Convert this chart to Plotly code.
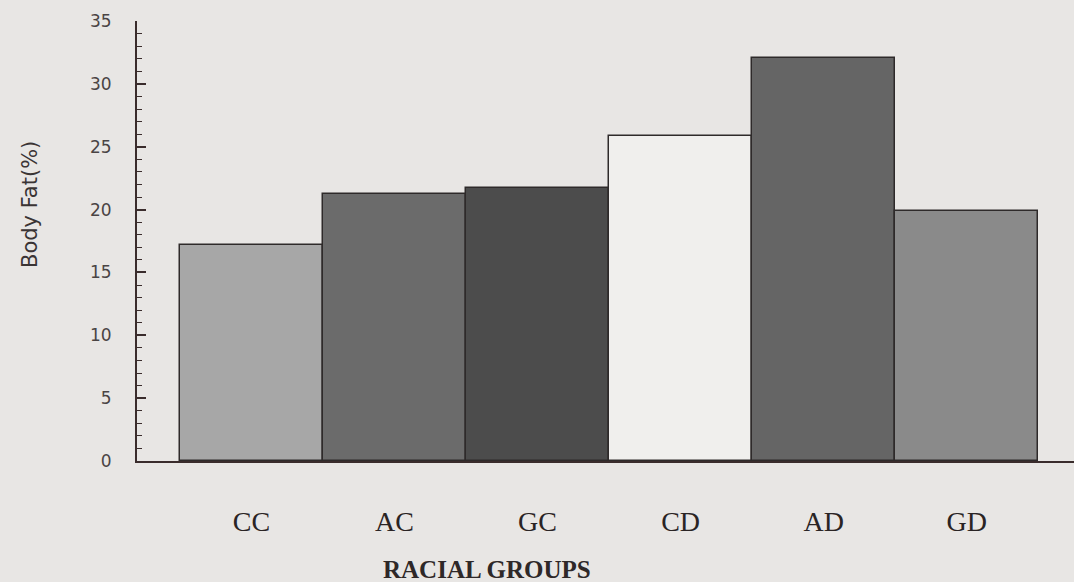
import plotly.graph_objects as go

categories = ["CC", "AC", "GC", "CD", "AD", "GD"]
body_fat = [17.2, 21.2, 21.7, 25.85, 32.05, 19.9]
bar_colors = ["#a7a7a7", "#6b6b6b", "#4c4c4c", "#f0efed", "#656565", "#8a8a8a"]
y_ticks = [0, 5, 10, 15, 20, 25, 30, 35]

W, H = 1074, 582
L, R, T, B = 137, 0, 21, 121
pw, ph = W - L - R, H - T - B

def px_x(x):
    return (x - L) / pw

def px_y(y):
    return (H - B - y) / ph

bg = "#e8e6e4"
axis_col = "#3a2c2c"

fig = go.Figure(go.Bar(
    x=categories, y=body_fat,
    marker=dict(color=bar_colors, line=dict(color="#2e2a2a", width=1.5)),
    width=1.0,
))

fig.update_layout(
    width=W, height=H,
    margin=dict(l=L, r=R, t=T, b=B, pad=0),
    paper_bgcolor=bg, plot_bgcolor=bg,
    showlegend=False,
    bargap=0,
    xaxis=dict(
        type="category",
        range=[-0.8, 5.75],
        showline=True, linecolor=axis_col, linewidth=2,
        ticks="", showgrid=False, zeroline=False,
        tickfont=dict(family="Liberation Serif", size=28, color="#2a2424"),
        ticklabelstandoff=34,
    ),
    yaxis=dict(
        range=[0, 35],
        tickvals=y_ticks,
        showline=True, linecolor=axis_col, linewidth=2,
        ticks="inside", ticklen=9, tickwidth=1.5, tickcolor=axis_col,
        minor=dict(dtick=1, ticks="inside", ticklen=5, tickwidth=1.2, tickcolor=axis_col),
        showgrid=False, zeroline=False,
        tickfont=dict(family="DejaVu Sans", size=17, color="#4a4444"),
        ticklabelstandoff=20,
    ),
    annotations=[
        dict(text="Body Fat(%)", xref="paper", yref="paper",
             x=px_x(30), y=px_y(205), textangle=-90, showarrow=False,
             xanchor="center", yanchor="middle",
             font=dict(family="DejaVu Sans", size=21, color="#3a3434")),
        dict(text="<b>RACIAL GROUPS</b>", xref="paper", yref="paper",
             x=px_x(487), y=px_y(569), showarrow=False,
             xanchor="center", yanchor="middle",
             font=dict(family="Liberation Serif", size=25, color="#2e2828")),
    ],
)

fig.write_html(
    "out.html",
    config={"displayModeBar": False},
    post_script="document.body.style.margin='0';document.body.style.background='%s';" % bg,
)
